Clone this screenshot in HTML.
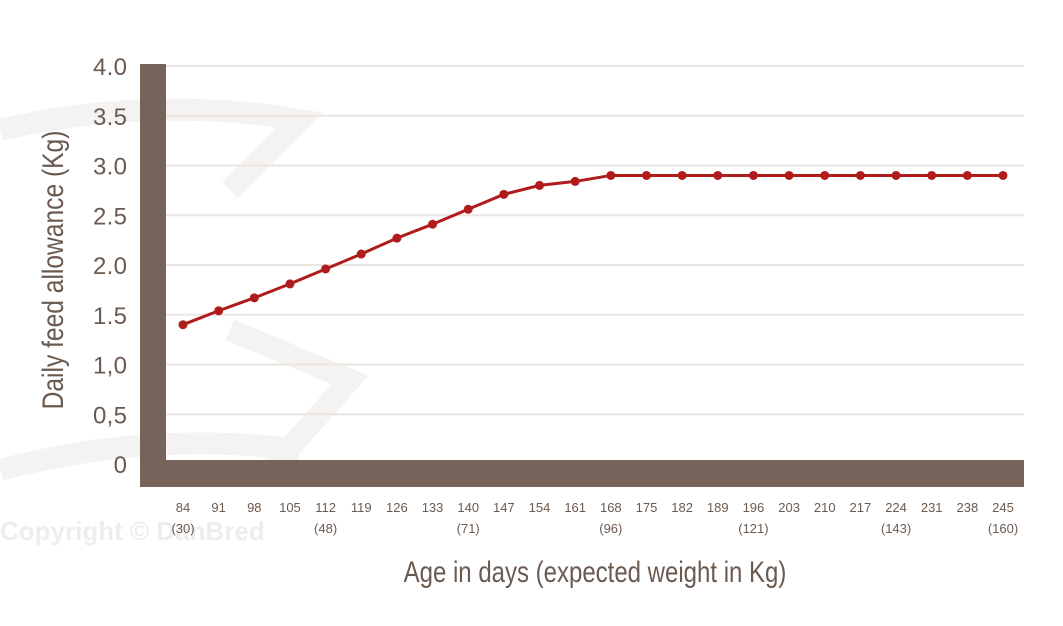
<!DOCTYPE html>
<html><head><meta charset="utf-8"><style>
html,body{margin:0;padding:0;background:#fff;}
svg{display:block;font-family:"Liberation Sans",sans-serif;}
</style></head><body>
<svg id="chart" width="1063" height="626" viewBox="0 0 1063 626">
<g id="watermark" fill="none" stroke="#f5f3f1" stroke-width="22">
<path d="M0 130 Q150 95 300 120 L230 190"/>
<path d="M230 330 L350 380 L270 470"/>
<path d="M0 470 Q150 430 300 450"/>
</g>
<text x="0" y="540" font-size="26" font-weight="bold" fill="#efedeb">Copyright © DanBred</text>
<g id="grid"></g>
<rect x="140" y="64" width="26" height="423" fill="#76645a"/>
<rect x="140" y="460" width="884" height="27" fill="#76645a"/>
<g id="yticks"></g>
<g id="xticks"></g>
<g id="series"></g>
<text transform="translate(63,270) rotate(-90) scale(0.82,1)" text-anchor="middle" font-size="30" fill="#6b5a4f">Daily feed allowance (Kg)</text>
<text transform="translate(595,582) scale(0.8,1)" text-anchor="middle" font-size="30" fill="#6b5a4f">Age in days (expected weight in Kg)</text>
</svg>
<script>
const days=[84,91,98,105,112,119,126,133,140,147,154,161,168,175,182,189,196,203,210,217,224,231,238,245];
const weights={84:30,112:48,140:71,168:96,196:121,224:143,245:160};
const feed=[1.40,1.54,1.67,1.81,1.96,2.11,2.27,2.41,2.56,2.71,2.80,2.84,2.90,2.90,2.90,2.90,2.90,2.90,2.90,2.90,2.90,2.90,2.90,2.90];
const yTicks=[0,0.5,1.0,1.5,2.0,2.5,3.0,3.5,4.0];
const yLabels=["0","0,5","1,0","1.5","2.0","2.5","3.0","3.5","4.0"];
const NS="http://www.w3.org/2000/svg";
function yS(v){return 464-v*99.5;}
function xS(i){return 183+i*(1003-183)/(days.length-1);}
function mk(t,a,p){const e=document.createElementNS(NS,t);for(const k in a)e.setAttribute(k,a[k]);p.appendChild(e);return e;}
const grid=document.getElementById('grid'),yt=document.getElementById('yticks'),xt=document.getElementById('xticks'),se=document.getElementById('series');
yTicks.forEach((v,i)=>{
 if(v>0){const l=mk('line',{x1:166,x2:1024,y1:yS(v),y2:yS(v),stroke:'#ebe5df','stroke-width':2},grid);
 
 }
 const t=mk('text',{x:127,y:yS(v)+9,'text-anchor':'end','font-size':24,fill:'#6b5a4f'},yt);
 t.setAttribute('textLength',yLabels[i].length>1?34:14);
 t.textContent=yLabels[i];
 
 
});
days.forEach((d,i)=>{
 const t=mk('text',{x:xS(i),y:512,'text-anchor':'middle','font-size':13,fill:'#6b5a4f'},xt);
 t.textContent=d;
 
 
 if(weights[d]!==undefined){const w=mk('text',{x:xS(i),y:533,'text-anchor':'middle','font-size':13,fill:'#6b5a4f'},xt);
 w.textContent='('+weights[d]+')';
 
 }
});
const line=mk('polyline',{points:feed.map((v,i)=>xS(i)+','+yS(v)).join(' '),fill:'none',stroke:'#b01c1c','stroke-width':3},se);


feed.forEach((v,i)=>{
 const c=mk('circle',{cx:xS(i),cy:yS(v),r:4.5,fill:'#b01c1c'},se);
 
 
});
</script>
</body></html>
